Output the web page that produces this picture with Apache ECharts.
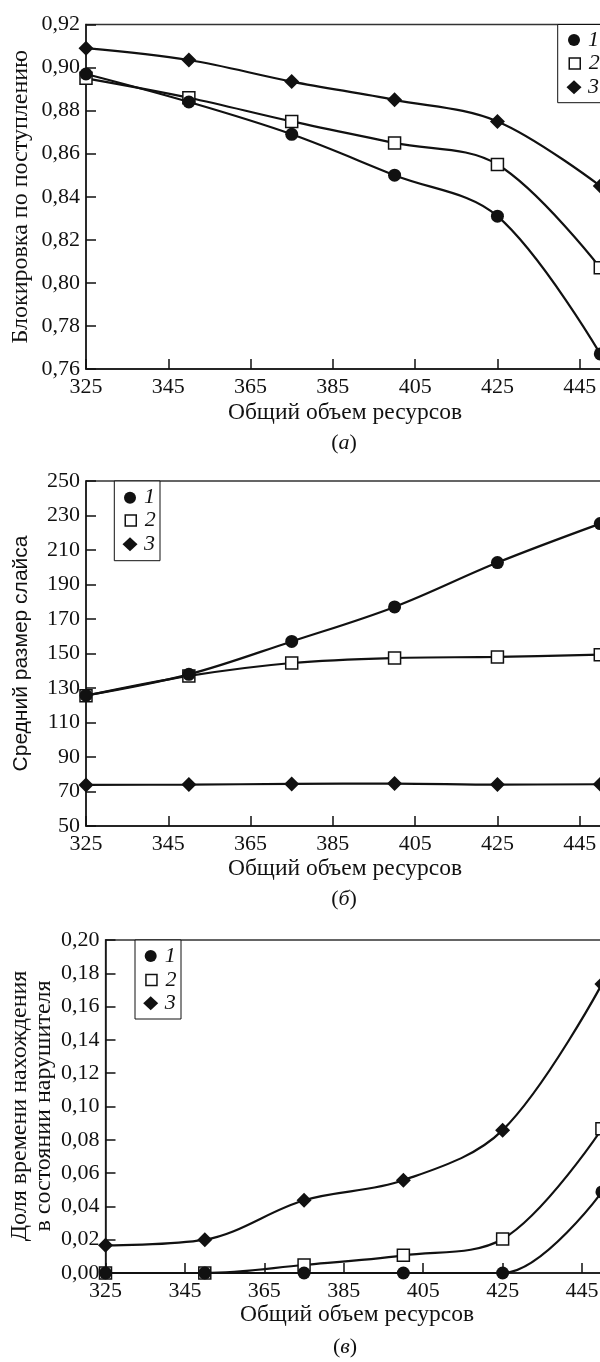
<!DOCTYPE html>
<html>
<head>
<meta charset="utf-8">
<script src="https://cdn.jsdelivr.net/npm/echarts@6/dist/echarts.min.js"></script>
<style>
  html, body { margin: 0; padding: 0; background: #fff; }
  #chart { width: 600px; height: 1362px; }
</style>
</head>
<body>
<div id="chart"></div>
<script>
// Total resource volume (x values shared by all three panels)
const resources = [325, 350, 375, 400, 425, 450];
const xTicks = [325, 345, 365, 385, 405, 425, 445];
const xAxisMax = 465;

// Panel (а): arrival blocking probability
const blockTicks = [0.76, 0.78, 0.80, 0.82, 0.84, 0.86, 0.88, 0.90, 0.92];
const block1 = [0.897, 0.884, 0.869, 0.850, 0.831, 0.767];
const block2 = [0.895, 0.886, 0.875, 0.865, 0.855, 0.807];
const block3 = [0.909, 0.9035, 0.8935, 0.885, 0.875, 0.845];

// Panel (б): mean slice size
const sliceTicks = [50, 70, 90, 110, 130, 150, 170, 190, 210, 230, 250];
const slice1 = [125.7, 137.9, 157.0, 177.0, 202.7, 225.3];
const slice2 = [125.5, 137.0, 144.5, 147.4, 148.0, 149.3];
const slice3 = [73.8, 74.0, 74.4, 74.6, 74.0, 74.2];

// Panel (в): share of time spent in the violator state
const violTicks = [0, 0.02, 0.04, 0.06, 0.08, 0.10, 0.12, 0.14, 0.16, 0.18, 0.20];
const viol1 = [0, 0, 0, 0, 0, 0.0487];
const viol2 = [0, 0, 0.0048, 0.0106, 0.0204, 0.0866];
const viol3 = [0.0166, 0.020, 0.0437, 0.0557, 0.0858, 0.1735];

const seriesNames = ['1', '2', '3'];
const xTitle = 'Общий объем ресурсов';
const yTitles = ['Блокировка по поступлению', 'Средний размер слайса',
                 'Доля времени нахождения\nв состоянии нарушителя'];
const captions = ['а', 'б', 'в'];

const SERIF = 'Liberation Serif';
const SANS = 'Liberation Sans';
const INK = '#111';

const grids = [
  { left: 86, top: 24.5, width: 576, height: 344.5 },
  { left: 86, top: 481, width: 576, height: 345 },
  { left: 105.5, top: 940, width: 556, height: 333 }
];

// Legend frames: box rectangle, marker column x, row centres
const legendFrames = [
  { box: [557.7, 24.5, 46, 78.2], mx: 574, rows: [40, 63.5, 87.3] },
  { box: [114.3, 481, 45.7, 79.7], mx: 130, rows: [497.7, 520.5, 544.3] },
  { box: [135, 940, 46, 79], mx: 150.7, rows: [956, 980, 1003.3] }
];

const comma2 = v => v.toFixed(2).replace('.', ',');

function xAxisFor(gi) {
  return {
    type: 'value', gridIndex: gi,
    min: xTicks[0], max: xAxisMax, interval: xTicks[1] - xTicks[0],
    axisLine: { show: true, onZero: false, lineStyle: { color: INK, width: 1.5 } },
    axisTick: { show: true, inside: true, length: 10, lineStyle: { color: INK, width: 1.5 } },
    axisLabel: { margin: 7, color: INK, fontFamily: SERIF, fontSize: 22 },
    splitLine: { show: false }
  };
}

function yAxisFor(gi, ticks, fmt) {
  return {
    type: 'value', gridIndex: gi,
    min: ticks[0], max: ticks[ticks.length - 1], interval: ticks[1] - ticks[0],
    axisLine: { show: true, onZero: false, lineStyle: { color: INK, width: 1.5 } },
    axisTick: { show: true, inside: true, length: 10, lineStyle: { color: INK, width: 1.5 } },
    axisLabel: { margin: 6, color: INK, fontFamily: SERIF, fontSize: 22, formatter: fmt },
    splitLine: { show: false }
  };
}

const markerStyles = [
  { symbol: 'circle', symbolSize: 13, legendSize: [12, 12],
    itemStyle: { color: INK, borderWidth: 0 }, z: 4 },
  { symbol: 'rect', symbolSize: 12, legendSize: [11, 11],
    itemStyle: { color: '#fff', borderColor: INK, borderWidth: 1.5 }, z: 3 },
  { symbol: 'diamond', symbolSize: [15, 15], legendSize: [15, 14],
    itemStyle: { color: INK, borderWidth: 0 }, z: 2 }
];

function lineSeries(gi, k, values) {
  const m = markerStyles[k];
  return {
    type: 'line', name: seriesNames[k],
    xAxisIndex: gi, yAxisIndex: gi,
    data: resources.map((x, i) => [x, values[i]]),
    smooth: 0.35,
    symbol: m.symbol, symbolSize: m.symbolSize, showSymbol: true,
    itemStyle: m.itemStyle,
    lineStyle: { color: INK, width: 2.2 },
    z: m.z, silent: true, animation: false,
    emphasis: { disabled: true }
  };
}

// One single-entry legend per marker kind, so each icon keeps its own size
function legendsFor(frame) {
  return seriesNames.map((name, k) => {
    const m = markerStyles[k];
    const w = m.legendSize[0], h = m.legendSize[1];
    return {
      orient: 'vertical', left: frame.mx - w / 2, top: frame.rows[k] - 11,
      padding: 0, itemGap: 0, itemWidth: w, itemHeight: h,
      selectedMode: false, z: 6,
      textStyle: { fontFamily: SERIF, fontStyle: 'italic', fontSize: 22, lineHeight: 22,
                   color: INK, padding: [0, 0, 0, 3 - (w - 12) / 2] },
      data: [{ name: name, icon: m.symbol, itemStyle: Object.assign({}, m.itemStyle) }]
    };
  });
}

function textEl(x, y, text, opts) {
  return {
    type: 'text', x: x, y: y, rotation: opts.rotation || 0, silent: true,
    style: Object.assign({
      text: text, fill: INK, fontFamily: SERIF, fontSize: 23.5,
      align: 'center', verticalAlign: 'middle'
    }, opts.style || {})
  };
}

function captionEl(x, y, letter) {
  return textEl(x, y, '({i|' + letter + '})', {
    style: { fontSize: 22, rich: { i: { fontStyle: 'italic', fontFamily: SERIF, fontSize: 22, fill: INK } } }
  });
}

function legendBox(frame) {
  const b = frame.box;
  return {
    type: 'rect', z: 5, silent: true,
    shape: { x: b[0], y: b[1], width: b[2], height: b[3] },
    style: { fill: '#fff', stroke: INK, lineWidth: 1 }
  };
}

const option = {
  backgroundColor: '#fff',
  animation: false,
  grid: grids.map(g => Object.assign({
    show: true, borderColor: '#333', borderWidth: 1.3,
    backgroundColor: 'transparent', containLabel: false, outerBoundsMode: 'none'
  }, g)),
  xAxis: [xAxisFor(0), xAxisFor(1), xAxisFor(2)],
  yAxis: [
    yAxisFor(0, blockTicks, comma2),
    yAxisFor(1, sliceTicks, v => String(v)),
    yAxisFor(2, violTicks, comma2)
  ],
  legend: [].concat(legendsFor(legendFrames[0]), legendsFor(legendFrames[1]), legendsFor(legendFrames[2])),
  series: [
    lineSeries(0, 2, block3), lineSeries(0, 1, block2), lineSeries(0, 0, block1),
    lineSeries(1, 2, slice3), lineSeries(1, 1, slice2), lineSeries(1, 0, slice1),
    lineSeries(2, 2, viol3), lineSeries(2, 1, viol2), lineSeries(2, 0, viol1)
  ],
  graphic: [
    legendBox(legendFrames[0]), legendBox(legendFrames[1]), legendBox(legendFrames[2]),
    textEl(21, 196.7, yTitles[0], { rotation: Math.PI / 2, style: { fontSize: 24 } }),
    textEl(21, 653.5, yTitles[1], { rotation: Math.PI / 2, style: { fontSize: 21, fontFamily: SANS } }),
    textEl(32, 1106, yTitles[2], { rotation: Math.PI / 2, style: { fontSize: 24, lineHeight: 24 } }),
    textEl(345, 413, xTitle, {}),
    textEl(345, 869, xTitle, {}),
    textEl(357, 1315, xTitle, {}),
    captionEl(344, 443, captions[0]),
    captionEl(344, 899, captions[1]),
    captionEl(345, 1347, captions[2])
  ]
};

const chart = echarts.init(document.getElementById('chart'), null, { renderer: 'canvas' });
chart.setOption(option);
</script>
</body>
</html>
